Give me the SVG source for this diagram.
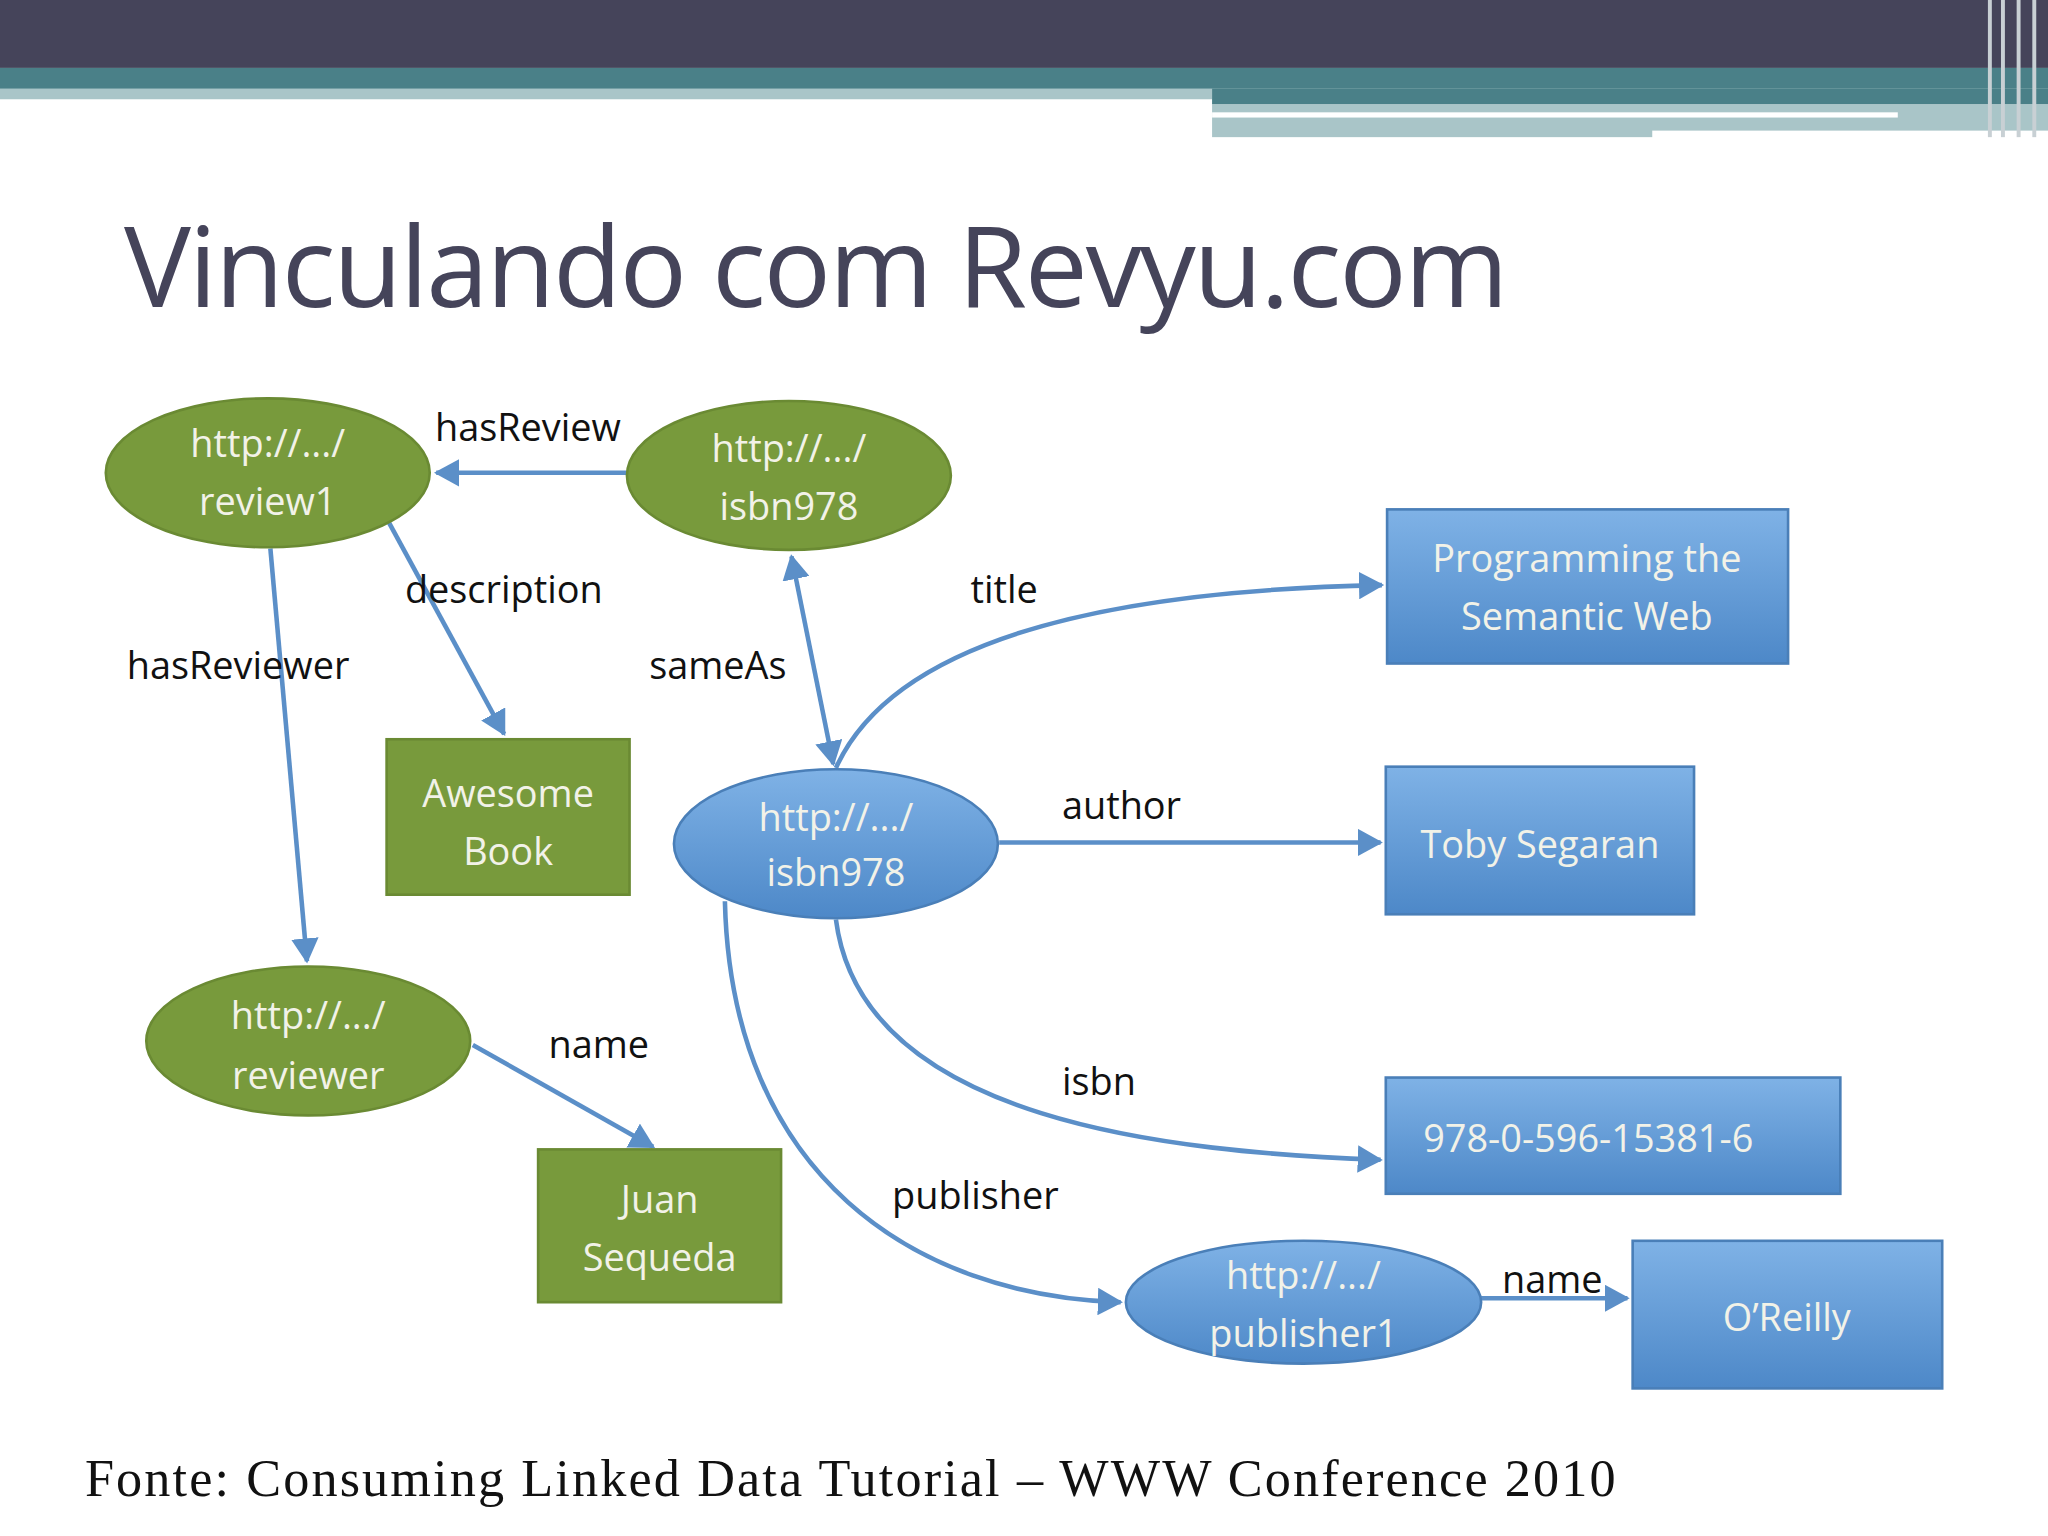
<svg xmlns="http://www.w3.org/2000/svg" width="2048" height="1536" viewBox="0 0 2048 1536">
<defs>
<marker id="ah" markerWidth="6" markerHeight="6" refX="5" refY="3" orient="auto-start-reverse" markerUnits="strokeWidth"><path d="M0,0 L5.5,3 L0,6 z" fill="#5b8fc8"/></marker>
<linearGradient id="bg" x1="0" y1="0" x2="0" y2="1"><stop offset="0" stop-color="#7fb2e6"/><stop offset="1" stop-color="#4d88c8"/></linearGradient>
</defs>
<style>
.g{fill:#789a3c;stroke:#6a8a33;stroke-width:2}
.b{fill:url(#bg);stroke:#4a7fb8;stroke-width:2}
.t{font-family:"Open Sans","DejaVu Sans",sans-serif;font-size:29px;fill:#f2f2e8;text-anchor:middle}
.l{font-family:"Open Sans","DejaVu Sans",sans-serif;font-size:29px;fill:#111}
.e{fill:none;stroke:#5b8fc8;stroke-width:3.5;marker-end:url(#ah)}
</style>
<rect width="2048" height="1536" fill="#fff"/>
<g transform="scale(1.30612)">
<rect x="0" y="0" width="1568" height="52" fill="#45445a"/>
<rect x="0" y="52" width="1568" height="16" fill="#4a8088"/>
<rect x="0" y="68" width="928" height="8" fill="#a9c5c8"/>
<rect x="928" y="68" width="640" height="12" fill="#4a8088"/>
<rect x="928" y="80" width="640" height="25" fill="#a9c5c8"/>
<rect x="928" y="86" width="525" height="4" fill="#fff"/>
<rect x="1265" y="100" width="303" height="6" fill="#fff"/>
<g fill="#c8d0d4"><rect x="1522" y="0" width="3" height="105"/><rect x="1532" y="0" width="3" height="105"/><rect x="1544" y="0" width="3" height="105"/><rect x="1556" y="0" width="3" height="105"/></g>
<text x="95" y="235" font-family="Open Sans, DejaVu Sans, sans-serif" font-size="86" fill="#45445a" textLength="1060">Vinculando com Revyu.com</text>

<g id="connectors">
<line class="e" x1="480" y1="362" x2="334" y2="362"/>
<line class="e" x1="295" y1="395" x2="386" y2="562"/>
<line class="e" x1="207" y1="420" x2="235" y2="736"/>
<line class="e" x1="362" y1="800" x2="500" y2="878"/>
<line class="e" x1="638" y1="585" x2="606" y2="426" style="marker-start:url(#ah)"/>
<path class="e" d="M640,588 Q700,455 1058,448"/>
<line class="e" x1="765" y1="645" x2="1057" y2="645"/>
<path class="e" d="M640,704 C660,860 900,882 1057,888"/>
<path class="e" d="M555,690 C560,900 700,992 858,997"/>
<line class="e" x1="1134" y1="994" x2="1246" y2="994"/>
<text class="l" x="333" y="338">hasReview</text>
<text class="l" x="310" y="462">description</text>
<text class="l" x="97" y="520">hasReviewer</text>
<text class="l" x="420" y="810">name</text>
<text class="l" x="497" y="520">sameAs</text>
<text class="l" x="743" y="462">title</text>
<text class="l" x="813" y="627">author</text>
<text class="l" x="813" y="838">isbn</text>
<text class="l" x="683" y="926">publisher</text>
<text class="l" x="1150" y="990">name</text>
</g>

<g id="review1"><ellipse class="g" cx="205" cy="362" rx="124" ry="57"/><text class="t" x="205" y="350">http://.../</text><text class="t" x="205" y="394">review1</text></g>
<g id="isbn978g"><ellipse class="g" cx="604" cy="364" rx="124" ry="57"/><text class="t" x="604" y="354">http://.../</text><text class="t" x="604" y="398">isbn978</text></g>
<g id="awesome"><rect class="g" x="296" y="566" width="186" height="119"/><text class="t" x="389" y="618">Awesome</text><text class="t" x="389" y="662">Book</text></g>
<g id="reviewer"><ellipse class="g" cx="236" cy="797" rx="124" ry="57"/><text class="t" x="236" y="788">http://.../</text><text class="t" x="236" y="834">reviewer</text></g>
<g id="juan"><rect class="g" x="412" y="880" width="186" height="117"/><text class="t" x="505" y="929">Juan</text><text class="t" x="505" y="973">Sequeda</text></g>
<g id="isbn978b"><ellipse class="b" cx="640" cy="646" rx="124" ry="57"/><text class="t" x="640" y="636">http://.../</text><text class="t" x="640" y="678">isbn978</text></g>
<g id="prog"><rect class="b" x="1062" y="390" width="307" height="118"/><text class="t" x="1215" y="438">Programming the</text><text class="t" x="1215" y="482">Semantic Web</text></g>
<g id="toby"><rect class="b" x="1061" y="587" width="236" height="113"/><text class="t" x="1179" y="657">Toby Segaran</text></g>
<g id="isbnv"><rect class="b" x="1061" y="825" width="348" height="89"/><text class="t" x="1216" y="882">978-0-596-15381-6</text></g>
<g id="publisher1"><ellipse class="b" cx="998" cy="997" rx="136" ry="47"/><text class="t" x="998" y="987">http://.../</text><text class="t" x="998" y="1031">publisher1</text></g>
<g id="oreilly"><rect class="b" x="1250" y="950" width="237" height="113"/><text class="t" x="1368" y="1019">O’Reilly</text></g>

<text x="65" y="1145" font-family="Liberation Serif, serif" font-size="40" fill="#111" textLength="1172">Fonte: Consuming Linked  Data  Tutorial – WWW Conference 2010</text>
</g>
</svg>
